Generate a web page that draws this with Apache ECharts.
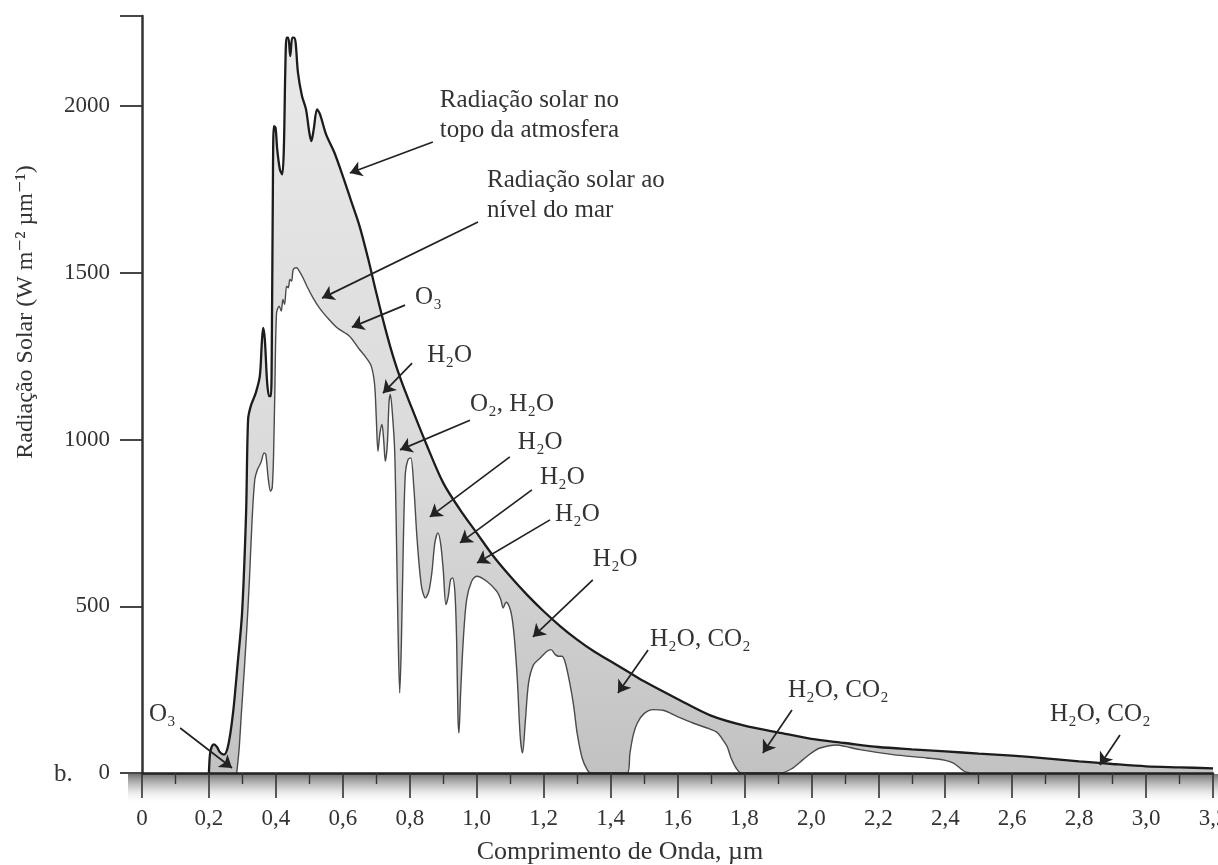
<!DOCTYPE html>
<html>
<head>
<meta charset="utf-8">
<script src="https://cdn.jsdelivr.net/npm/echarts@6/dist/echarts.min.js"></script>
<style>
html,body{margin:0;padding:0;background:#fff;}
#chart{width:1218px;height:865px;}
</style>
</head>
<body>
<div id="chart"></div>
<script>
// Top-of-atmosphere solar radiation (µm, W m-2 µm-1)
const toaWavelength = [0.200,0.203,0.208,0.215,0.224,0.233,0.245,0.258,0.272,0.286,
  0.299,0.311,0.317,0.325,0.340,0.352,0.358,0.362,0.367,0.374,
  0.380,0.385,0.388,0.391,0.394,0.399,0.404,0.412,0.419,0.424,
  0.428,0.432,0.437,0.443,0.449,0.454,0.459,0.466,0.478,0.490,
  0.500,0.506,0.513,0.523,0.532,0.550,0.575,0.600,0.625,0.650,
  0.675,0.700,0.725,0.750,0.775,0.800,0.850,0.900,0.950,1.000,
  1.050,1.100,1.150,1.200,1.250,1.300,1.350,1.400,1.450,1.500,
  1.600,1.700,1.800,1.900,2.000,2.100,2.200,2.300,2.400,2.500,
  2.600,2.700,2.800,2.900,3.000,3.100,3.200];
const toaIrradiance = [0,55,78,86,78,62,55,85,180,330,
  480,780,1060,1100,1140,1190,1290,1335,1300,1170,
  1130,1130,1300,1750,1940,1935,1870,1810,1795,1880,
  2100,2205,2205,2150,2205,2205,2190,2100,2030,1990,
  1920,1895,1930,1990,1975,1915,1860,1790,1715,1640,
  1545,1440,1340,1250,1175,1110,985,870,790,720,
  650,590,535,485,440,400,365,335,305,275,
  222,172,142,122,102,90,78,71,65,58,
  52,44,35,27,20,17,14];

// Sea-level solar radiation
const seaWavelength = [0.283,0.290,0.297,0.305,0.313,0.321,0.329,0.337,0.345,0.355,
  0.365,0.370,0.377,0.384,0.389,0.393,0.397,0.402,0.410,0.416,
  0.421,0.426,0.432,0.437,0.442,0.447,0.452,0.462,0.470,0.481,
  0.495,0.511,0.530,0.550,0.583,0.620,0.650,0.670,0.685,0.695,
  0.700,0.705,0.711,0.717,0.722,0.727,0.733,0.738,0.742,0.748,
  0.755,0.760,0.765,0.770,0.775,0.781,0.787,0.795,0.803,0.812,
  0.822,0.835,0.847,0.857,0.866,0.875,0.884,0.892,0.900,0.908,
  0.915,0.922,0.928,0.935,0.940,0.944,0.947,0.952,0.960,0.970,
  0.985,1.000,1.030,1.060,1.072,1.079,1.088,1.097,1.105,1.113,
  1.122,1.130,1.137,1.145,1.155,1.170,1.190,1.210,1.222,1.235,
  1.245,1.255,1.265,1.278,1.290,1.300,1.315,1.330,1.340,1.450,
  1.458,1.468,1.480,1.500,1.527,1.557,1.598,1.646,1.688,1.718,
  1.735,1.748,1.760,1.775,1.790,1.906,1.940,1.975,2.000,2.026,
  2.076,2.100,2.145,2.244,2.345,2.400,2.423,2.440,2.455,2.474];
const seaIrradiance = [0,70,180,300,430,580,760,880,910,930,
  960,955,885,845,855,950,1150,1380,1400,1385,
  1420,1405,1460,1455,1480,1475,1510,1515,1505,1485,
  1455,1425,1395,1370,1335,1310,1270,1245,1220,1165,
  1065,965,1020,1045,1000,935,985,1110,1135,1080,
  965,720,430,240,390,700,900,940,945,860,
  700,560,525,545,600,690,720,690,610,505,
  530,580,585,540,400,170,120,240,400,520,
  575,590,575,545,520,495,512,500,470,400,
  270,110,60,150,270,325,345,365,370,355,
  350,350,330,270,200,120,45,10,0,0,
  60,115,150,178,190,188,170,150,135,122,
  100,80,45,15,0,0,12,40,60,75,
  84,80,70,55,45,38,30,18,6,0];

// Annotations (data coordinates)
const noteTexts = ['Radiação solar no\ntopo da atmosfera','Radiação solar ao\nnível do mar','O₃','H₂O','O₂, H₂O','H₂O','H₂O','H₂O','H₂O','H₂O, CO₂','H₂O, CO₂','H₂O, CO₂','O₃'];
const noteX = [0.890,1.031,0.816,0.852,0.980,1.123,1.189,1.234,1.347,1.518,1.930,2.713,0.021];
const noteY = [2039,1799,1448,1274,1127,1013,906,795,660,423,270,198,198];
const arrowFrom = [[0.869,1892],[1.004,1652],[0.786,1403],[0.807,1229],[0.980,1058],[1.099,948],[1.165,849],[1.219,759],[1.347,579],[1.512,369],[1.942,189],[2.922,114],[0.114,135]];
const arrowTo = [[0.621,1799],[0.538,1424],[0.627,1337],[0.720,1139],[0.771,969],[0.860,768],[0.950,690],[1.001,630],[1.168,408],[1.422,240],[1.855,60],[2.862,24],[0.269,15]];

const xAxisTitle = 'Comprimento de Onda, µm';
const yAxisTitle = 'Radiação Solar (W m⁻² µm⁻¹)';
const panelLetter = 'b.';

const serif = '"Liberation Serif","DejaVu Serif",serif';
const zip = (xs, ys) => xs.map((x, i) => [x, ys[i]]);
const toa = zip(toaWavelength, toaIrradiance);
const sea = zip(seaWavelength, seaIrradiance);

const chart = echarts.init(document.getElementById('chart'), null, {renderer: 'canvas'});

const option = {
  animation: false,
  backgroundColor: '#ffffff',
  grid: {left: 142, right: 5, top: 16, bottom: 92, containLabel: false, outerBoundsMode: 'none'},
  xAxis: {
    type: 'value', min: 0, max: 3.2, interval: 0.2, z: 10,
    axisLine: {show: true, onZero: false, lineStyle: {color: '#222', width: 2.5}},
    axisTick: {show: true, length: 25, lineStyle: {color: '#333', width: 1.6}},
    minorTick: {show: true, splitNumber: 2, length: 11, lineStyle: {color: '#333', width: 1.4}},
    splitLine: {show: false}, minorSplitLine: {show: false},
    axisLabel: {margin: 34, fontFamily: serif, fontSize: 23, color: '#333', hideOverlap: false,
      formatter: v => (Math.abs(v) < 1e-9 ? '0' : v.toFixed(1).replace('.', ','))}
  },
  yAxis: {
    type: 'value', min: 0, max: 2270, interval: 500,
    axisLine: {show: true, lineStyle: {color: '#333', width: 2.5}},
    axisTick: {show: true, length: 22, lineStyle: {color: '#333', width: 1.8}},
    splitLine: {show: false},
    axisLabel: {margin: 32, fontFamily: serif, fontSize: 23, color: '#333',
      formatter: v => (v % 500 === 0 ? String(v) : '')}
  },
  series: [
    {
      type: 'line', data: toa, symbol: 'none', smooth: 0.3, silent: true, z: 1,
      lineStyle: {width: 0},
      areaStyle: {opacity: 1, color: new echarts.graphic.LinearGradient(0, 0, 0, 1, [
        {offset: 0, color: '#e9e9e9'}, {offset: 0.6, color: '#dadada'}, {offset: 1, color: '#c2c2c2'}])}
    },
    {
      type: 'line', data: sea, symbol: 'none', smooth: 0.3, silent: true, z: 2,
      lineStyle: {width: 1.4, color: '#4a4a4a'},
      areaStyle: {opacity: 1, color: '#ffffff'}
    },
    {
      type: 'line', data: toa, symbol: 'none', smooth: 0.3, silent: true, z: 3,
      lineStyle: {width: 2.3, color: '#1c1c1c'},
      markLine: {
        silent: true, symbol: ['none', 'arrow'], symbolSize: 12,
        lineStyle: {color: '#222', width: 1.7, type: 'solid'},
        label: {show: false}, emphasis: {disabled: true},
        data: arrowFrom.map((f, i) => [{coord: f}, {coord: arrowTo[i]}])
      }
    }
  ]
};
chart.setOption(option);

const graphics = [];
graphics.push({
  type: 'rect', z: -1, silent: true,
  shape: {x: 128, y: 774, width: 1090, height: 30},
  style: {fill: new echarts.graphic.LinearGradient(0, 0, 0, 1, [
    {offset: 0, color: 'rgba(80,80,80,0.8)'}, {offset: 0.45, color: 'rgba(160,160,160,0.5)'}, {offset: 1, color: 'rgba(255,255,255,0)'}])}
});
noteTexts.forEach((t, i) => {
  const p = chart.convertToPixel({gridIndex: 0}, [noteX[i], noteY[i]]);
  graphics.push({
    type: 'text', x: p[0], y: p[1] - 8, z: 20, silent: true,
    style: {text: t, fontSize: 25, fontFamily: serif, fill: '#333', lineHeight: 30,
      textAlign: 'left', align: 'left', textVerticalAlign: 'top', verticalAlign: 'top'}
  });
});
graphics.push({
  type: 'text', x: 620, y: 852, z: 20, silent: true,
  style: {text: xAxisTitle, fontSize: 26, fontFamily: serif, fill: '#333',
    textAlign: 'center', align: 'center', textVerticalAlign: 'middle', verticalAlign: 'middle'}
});
graphics.push({
  type: 'text', x: 26, y: 312, rotation: Math.PI / 2, z: 20, silent: true,
  style: {text: yAxisTitle, fontSize: 24, fontFamily: serif, fill: '#333',
    textAlign: 'center', align: 'center', textVerticalAlign: 'middle', verticalAlign: 'middle'}
});
graphics.push({
  type: 'text', x: 54, y: 774, z: 20, silent: true,
  style: {text: panelLetter, fontSize: 25, fontFamily: serif, fill: '#333',
    textAlign: 'left', align: 'left', textVerticalAlign: 'middle', verticalAlign: 'middle'}
});
chart.setOption({graphic: {elements: graphics}});
</script>
</body>
</html>
